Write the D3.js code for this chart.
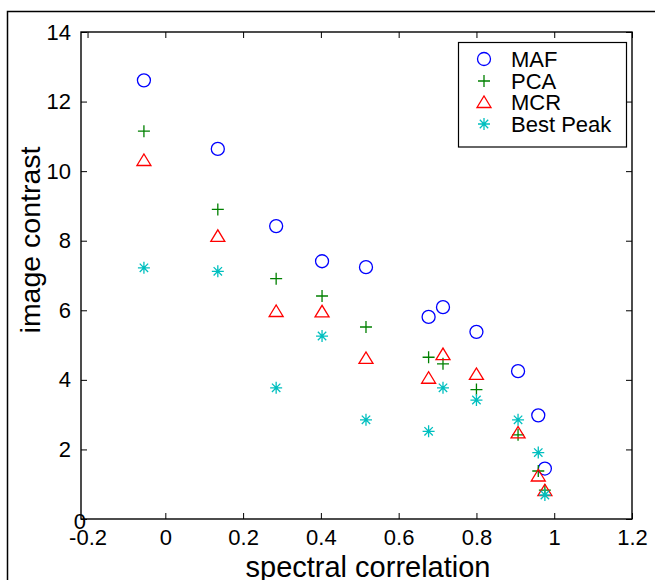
<!DOCTYPE html>
<html>
<head>
<meta charset="utf-8">
<script src="https://cdn.jsdelivr.net/npm/d3@7"></script>
<style>
  body { margin: 0; background: #fff; }
  text { font-family: "Liberation Sans", Arial, sans-serif; }
</style>
</head>
<body>
<script>
// spectral correlation (x) shared by every method
var corr = [-0.055, 0.135, 0.285, 0.403, 0.516, 0.677, 0.714, 0.800, 0.907, 0.959, 0.976];
// image contrast per method
var maf  = [12.61, 10.64, 8.42, 7.41, 7.24, 5.81, 6.09, 5.38, 4.25, 2.98, 1.45];
var pca  = [11.15, 8.90, 6.91, 6.41, 5.52, 4.65, 4.46, 3.72, 2.42, 1.38, 0.83];
var mcr  = [10.32, 8.14, 5.98, 5.97, 4.63, 4.06, 4.74, 4.17, 2.49, 1.25, 0.83];
var peak = [7.22, 7.12, 3.77, 5.26, 2.85, 2.52, 3.77, 3.42, 2.85, 1.91, 0.69];

var seriesNames = ["MAF", "PCA", "MCR", "Best Peak"];
var xTicks = [-0.2, 0, 0.2, 0.4, 0.6, 0.8, 1, 1.2];
var xTickLabels = ["-0.2", "0", "0.2", "0.4", "0.6", "0.8", "1", "1.2"];
var yTicks = [0, 2, 4, 6, 8, 10, 12, 14];

function init(){
    var w = 655;
    var h = 580;
    var left = 81, right = 632, top = 32, bottom = 519;

    var svg = d3.select("body")
        .append("svg")
        .attr("width", w)
        .attr("height", h);

    // figure frame (cropped)
    svg.append("path")
        .attr("d", "M7.5," + h + "V11.5H" + w)
        .attr("fill", "none")
        .attr("stroke", "#000")
        .attr("stroke-width", 1.5);

    var xScale = d3.scaleLinear()
        .domain([-0.2168, 1.2])
        .range([left, right]);
    var yScale = d3.scaleLinear()
        .domain([0, 14])
        .range([bottom, top]);

    var xAxis = d3.axisBottom(xScale)
        .tickValues(xTicks)
        .tickFormat(function(d, i){ return xTickLabels[i]; })
        .tickSizeInner(-6).tickSizeOuter(0).tickPadding(10);
    var xAxisTop = d3.axisTop(xScale)
        .tickValues(xTicks).tickFormat("")
        .tickSizeInner(-6).tickSizeOuter(0);
    var yAxis = d3.axisLeft(yScale)
        .tickValues(yTicks)
        .tickFormat(d3.format("d"))
        .tickSizeInner(-6).tickSizeOuter(0).tickPadding(10);
    var yAxisRight = d3.axisRight(yScale)
        .tickValues(yTicks).tickFormat("")
        .tickSizeInner(-6).tickSizeOuter(0);

    var gx = svg.append("g").attr("transform", "translate(0," + bottom + ")").call(xAxis);
    svg.append("g").attr("transform", "translate(0," + top + ")").call(xAxisTop);
    var gy = svg.append("g").attr("transform", "translate(" + left + ",0)").call(yAxis);
    svg.append("g").attr("transform", "translate(" + right + ",0)").call(yAxisRight);

    svg.selectAll(".domain").remove();
    svg.selectAll(".tick line").attr("stroke", "#000").attr("stroke-width", 1);
    svg.selectAll(".tick text")
        .attr("font-family", "Liberation Sans, Arial, sans-serif")
        .attr("font-size", "22px")
        .attr("fill", "#000");
    // x tick at -0.2 is not on the box edge; drop the first tick mark
    gx.selectAll(".tick").filter(function(d){ return d === -0.2; }).select("line").remove();
    // the zero label sits on the corner, as in the original
    gy.selectAll(".tick").filter(function(d){ return d === 0; }).select("text")
        .attr("x", 5).attr("dy", "0.42em");

    // axes box
    svg.append("rect")
        .attr("x", left).attr("y", top)
        .attr("width", right - left).attr("height", bottom - top)
        .attr("fill", "none").attr("stroke", "#000").attr("stroke-width", 1.4);

    // marker shapes
    var shapes = {
        circle: "M6.5,0A6.5,6.5 0 1,1 -6.5,0A6.5,6.5 0 1,1 6.5,0Z",
        plus: "M-6,0H6M0,-6V6",
        triangle: "M-7,5.5L0,-6L7,5.5Z",
        star: "M-6,0H6M0,-6V6M-4.2,-4.2L4.2,4.2M-4.2,4.2L4.2,-4.2"
    };
    var series = [
        {name: seriesNames[0], values: maf,  color: "#0000ff", shape: "circle"},
        {name: seriesNames[1], values: pca,  color: "#008000", shape: "plus"},
        {name: seriesNames[2], values: mcr,  color: "#ff0000", shape: "triangle"},
        {name: seriesNames[3], values: peak, color: "#00bfbf", shape: "star"}
    ];

    series.forEach(function(s){
        svg.append("g")
            .selectAll("path")
            .data(s.values)
            .enter()
            .append("path")
            .attr("d", shapes[s.shape])
            .attr("transform", function(d, i){
                return "translate(" + xScale(corr[i]) + "," + yScale(d) + ")";
            })
            .attr("fill", "none")
            .attr("stroke", s.color)
            .attr("stroke-width", 1.3);
    });

    // legend
    var lg = svg.append("g");
    lg.append("rect")
        .attr("x", 458.5).attr("y", 42.5)
        .attr("width", 168).attr("height", 104.5)
        .attr("fill", "#fff").attr("stroke", "#000").attr("stroke-width", 1.2);
    var rows = [59, 81, 102, 124];
    series.forEach(function(s, i){
        lg.append("path")
            .attr("d", shapes[s.shape])
            .attr("transform", "translate(484," + rows[i] + ")")
            .attr("fill", "none")
            .attr("stroke", s.color)
            .attr("stroke-width", 1.3);
        lg.append("text")
            .attr("x", 511).attr("y", rows[i] + 8)
            .attr("font-size", "22px")
            .attr("fill", "#000")
            .text(s.name);
    });

    // axis titles
    svg.append("text")
        .attr("text-anchor", "middle")
        .attr("x", 368).attr("y", 577)
        .attr("font-size", "29px")
        .text("spectral correlation");
    svg.append("text")
        .attr("text-anchor", "middle")
        .attr("transform", "translate(40,240) rotate(-90)")
        .attr("font-size", "28.5px")
        .text("image contrast");
}
window.onload = init;
</script>
</body>
</html>
